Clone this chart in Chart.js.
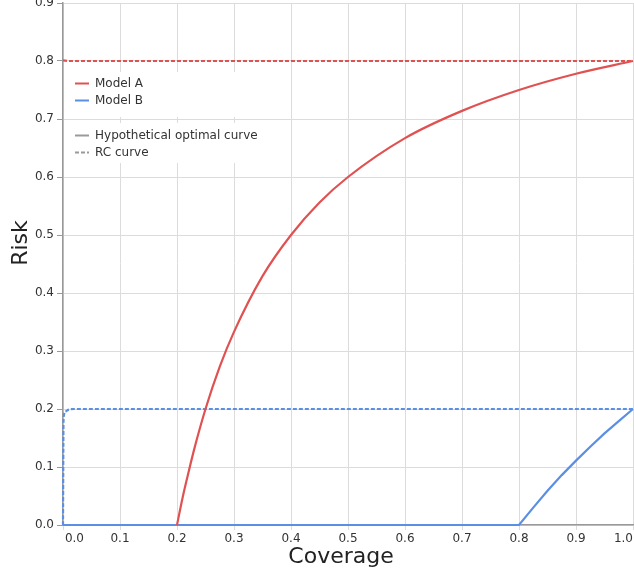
<!DOCTYPE html>
<html>
<head>
<meta charset="utf-8">
<script src="https://cdn.jsdelivr.net/npm/chart.js@4.4.1/dist/chart.umd.min.js"></script>
<style>
  body { margin: 0; background: #fff; }
  canvas { display: block; }
</style>
</head>
<body>
<canvas id="rcChart" width="634" height="577"></canvas>
<script>
// values
const modelACoverage = [0.2, 0.21, 0.22, 0.23, 0.25, 0.275, 0.3, 0.35, 0.4, 0.45, 0.5, 0.6, 0.7, 0.8, 0.9, 1.0];
const modelARisk     = [0, 0.048, 0.09, 0.13, 0.2, 0.273, 0.333, 0.429, 0.5, 0.556, 0.6, 0.667, 0.714, 0.75, 0.778, 0.8];
const modelBCoverage = [0, 0.8, 0.825, 0.85, 0.875, 0.9, 0.925, 0.95, 0.975, 1.0];
const modelBRisk     = [0, 0, 0.03, 0.059, 0.086, 0.111, 0.135, 0.158, 0.179, 0.2];
const rcACoverage = [0, 0.01, 1.0];
const rcARisk     = [0.801, 0.8, 0.8];
const rcBCoverage = [0, 0.001, 0.005, 0.01, 0.02, 1.0];
const rcBRisk     = [0, 0.185, 0.196, 0.199, 0.2, 0.2];

const tickFont = { family: 'DejaVu Sans', size: 12 };
const titleFont = { family: 'DejaVu Sans', size: 22 };

const RED = '#e05252';
const BLUE = '#5b8fe3';
const GREY = '#9a9a9a';

function toPoints(xs, ys) {
  return xs.map((x, i) => ({ x: x, y: ys[i] }));
}

// legend is drawn by hand since it sits inside the plot on white boxes
const legendBoxes = [
  { top: 72, bottom: 117, firstRow: 83, items: [
    { label: 'Model A', color: RED, dash: [] },
    { label: 'Model B', color: BLUE, dash: [] }
  ] },
  { top: 123, bottom: 163, firstRow: 135, items: [
    { label: 'Hypothetical optimal curve', color: GREY, dash: [] },
    { label: 'RC curve', color: GREY, dash: [4, 2] }
  ] }
];

const insideLegend = {
  id: 'insideLegend',
  beforeDatasetsDraw(chart) {
    const ctx = chart.ctx;
    const left = chart.chartArea.left + 1;
    ctx.save();
    legendBoxes.forEach(box => {
      ctx.fillStyle = '#fff';
      ctx.fillRect(left, box.top, 270 - left, box.bottom - box.top);
      box.items.forEach((item, i) => {
        const y = box.firstRow + i * 17 + 0.5;
        ctx.strokeStyle = item.color;
        ctx.lineWidth = 2;
        ctx.setLineDash(item.dash);
        ctx.beginPath();
        ctx.moveTo(75, y);
        ctx.lineTo(89, y);
        ctx.stroke();
        ctx.setLineDash([]);
        ctx.fillStyle = '#333';
        ctx.font = '12px "DejaVu Sans"';
        ctx.textBaseline = 'middle';
        ctx.fillText(item.label, 95, y);
      });
    });
    ctx.restore();
  }
};

const lineStyle = {
  borderWidth: 2.2,
  pointRadius: 0,
  fill: false,
  showLine: true,
  clip: 4
};

new Chart(document.getElementById('rcChart'), {
  type: 'scatter',
  data: {
    datasets: [
      Object.assign({ label: 'Model A', data: toPoints(modelACoverage, modelARisk), borderColor: RED,
        cubicInterpolationMode: 'monotone' }, lineStyle),
      Object.assign({ label: 'Model B', data: toPoints(modelBCoverage, modelBRisk), borderColor: BLUE,
        tension: 0 }, lineStyle),
      Object.assign({ label: 'RC A', data: toPoints(rcACoverage, rcARisk), borderColor: RED,
        borderDash: [4, 2], tension: 0 }, lineStyle),
      Object.assign({ label: 'RC B', data: toPoints(rcBCoverage, rcBRisk), borderColor: BLUE,
        borderDash: [4, 2], cubicInterpolationMode: 'monotone' }, lineStyle)
    ]
  },
  options: {
    responsive: false,
    animation: false,
    layout: { padding: { top: 3, right: 1, left: 0, bottom: 0 } },
    plugins: {
      legend: { display: false },
      tooltip: { enabled: false }
    },
    scales: {
      x: {
        type: 'linear',
        min: 0,
        max: 1,
        ticks: {
          stepSize: 0.1,
          font: tickFont,
          color: '#333',
          padding: 2,
          maxRotation: 0,
          // end labels are pushed inwards like in the original
          callback: v => {
            if (Math.abs(v) < 1e-9) return '      0.0';
            if (Math.abs(v - 1) < 1e-9) return '1.0     ';
            return v.toFixed(1);
          }
        },
        grid: { color: '#dcdcdc', tickLength: 5, tickColor: '#dcdcdc' },
        border: { color: '#999', width: 1.5 },
        title: {
          display: true,
          text: 'Coverage  ',
          font: titleFont,
          color: '#222',
          padding: { top: 0, bottom: 7 }
        },
        afterFit(scale) {
          scale.height = 52;
          scale.paddingLeft = 0;
          scale.paddingRight = 0;
        }
      },
      y: {
        type: 'linear',
        min: 0,
        max: 0.9,
        ticks: {
          stepSize: 0.1,
          font: tickFont,
          color: '#333',
          padding: 3,
          callback: v => v.toFixed(1)
        },
        grid: { color: '#dcdcdc', tickLength: 6, tickColor: '#999' },
        border: { color: '#999', width: 1.5 },
        title: {
          display: true,
          text: '      Risk',
          font: titleFont,
          color: '#222',
          padding: { top: 8, bottom: 0 }
        },
        afterFit(scale) {
          scale.width = 63;
          scale.paddingTop = 0;
          scale.paddingBottom = 0;
        }
      }
    }
  },
  plugins: [insideLegend]
});
</script>
</body>
</html>
